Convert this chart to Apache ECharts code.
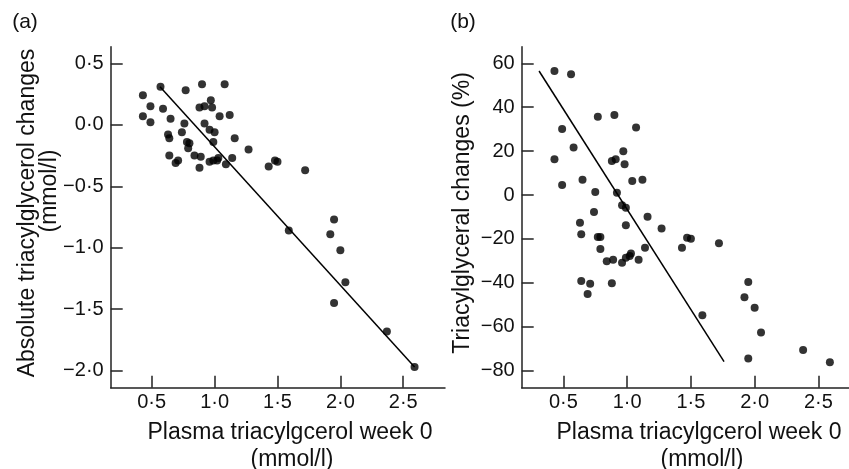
<!DOCTYPE html>
<html>
<head>
<meta charset="utf-8">
<script src="https://cdn.jsdelivr.net/npm/echarts@6/dist/echarts.min.js"></script>
<style>
html, body { margin: 0; padding: 0; background: #fff; }
#chart { width: 849px; height: 469px; }
</style>
</head>
<body>
<div id="chart"></div>
<script>
// (a) absolute change vs week 0 plasma TAG
const aX = [0.43, 0.43, 0.49, 0.49, 0.57, 0.59, 0.63, 0.64, 0.65, 0.64, 0.69, 0.71, 0.77, 0.76, 0.74, 0.78, 0.80, 0.79, 0.84, 0.88,
    0.90, 0.92, 0.92, 0.89, 0.88, 0.97, 0.98, 0.96, 1.00, 0.99, 0.96, 0.99, 1.02, 1.03, 1.04, 1.08, 1.09, 1.12, 1.16, 1.14,
    1.27, 1.43, 1.48, 1.50, 1.72, 1.59, 1.92, 1.95, 2.00, 2.04, 1.95, 2.37, 2.59]
const aY = [0.24, 0.07, 0.15, 0.02, 0.31, 0.13, -0.08, -0.11, 0.05, -0.25, -0.31, -0.29, 0.28, 0.01, -0.06, -0.14, -0.15, -0.19, -0.25, 0.14,
    0.33, 0.15, 0.01, -0.26, -0.35, 0.20, 0.14, -0.04, -0.06, -0.14, -0.30, -0.29, -0.29, -0.27, 0.07, 0.33, -0.32, 0.08, -0.11, -0.27,
    -0.20, -0.34, -0.29, -0.30, -0.37, -0.86, -0.89, -0.77, -1.02, -1.28, -1.45, -1.68, -1.97]
const aLineX = [0.566, 2.59]
const aLineY = [0.31, -1.97]

// (b) percentage change vs week 0 plasma TAG
const bX = [0.43, 0.56, 0.49, 0.43, 0.49, 0.58, 0.65, 0.63, 0.64, 0.64, 0.69, 0.71, 0.75, 0.77, 0.74, 0.77, 0.79, 0.79, 0.84, 0.88,
    0.91, 0.90, 0.92, 0.89, 0.88, 0.97, 0.98, 0.96, 0.99, 0.99, 0.96, 0.99, 1.02, 1.03, 1.04, 1.07, 1.09, 1.12, 1.16, 1.14,
    1.27, 1.43, 1.47, 1.50, 1.72, 1.59, 1.92, 1.95, 2.00, 2.05, 1.95, 2.38, 2.59]
const bY = [56.5, 55.0, 30.1, 16.3, 4.6, 21.6, 7.0, -12.6, -17.9, -39.2, -45.1, -40.4, 1.4, 35.7, -7.7, -19.1, -19.1, -24.6, -30.1, 15.5,
    16.3, 36.4, 1.0, -29.5, -40.2, 20.0, 14.0, -4.6, -5.8, -13.8, -30.8, -28.6, -27.8, -26.6, 6.4, 30.8, -29.5, 7.0, -9.9, -24.0,
    -15.2, -24.0, -19.4, -19.9, -21.9, -54.7, -46.5, -39.6, -51.3, -62.6, -74.4, -70.6, -76.1]
const bLineX = [0.309, 1.76]
const bLineY = [56.5, -75.9]

// tick labels
const xTicks = [0.5, 1.0, 1.5, 2.0, 2.5]
const xTickLabels = ['0·5', '1·0', '1·5', '2·0', '2·5']
const aYTicks = [0.5, 0, -0.5, -1.0, -1.5, -2.0]
const aYTickLabels = ['0·5', '0·0', '−0·5', '−1·0', '−1·5', '−2·0']
const bYTicks = [60, 40, 20, 0, -20, -40, -60, -80]
const bYTickLabels = ['60', '40', '20', '0', '−20', '−40', '−60', '−80']

const font = "'Liberation Sans', Arial, sans-serif"
const ink = '#000'

function zip(xs, ys) {
    return xs.map((x, i) => [x, ys[i]])
}
function lookup(values, labels) {
    return function (v) {
        const i = values.findIndex(t => Math.abs(t - v) < 1e-6)
        return i < 0 ? '' : labels[i]
    }
}

const axisCommon = {
    type: 'value',
    splitLine: { show: false },
    axisLine: { show: true, onZero: false, lineStyle: { color: '#222', width: 1.5 } },
    axisTick: { show: true, inside: true, length: 12, lineStyle: { color: '#222', width: 1.5 } },
    axisLabel: { color: '#111', fontSize: 20, fontFamily: font }
}

function xAxis(grid, min, max) {
    return Object.assign({}, axisCommon, {
        gridIndex: grid, min: min, max: max,
        axisTick: Object.assign({}, axisCommon.axisTick, { customValues: xTicks }),
        axisLabel: Object.assign({}, axisCommon.axisLabel, { margin: 5, customValues: xTicks, formatter: lookup(xTicks, xTickLabels) })
    })
}
function yAxis(grid, min, max, ticks, labels) {
    return Object.assign({}, axisCommon, {
        gridIndex: grid, min: min, max: max,
        axisTick: Object.assign({}, axisCommon.axisTick, { customValues: ticks }),
        axisLabel: Object.assign({}, axisCommon.axisLabel, { margin: 7, customValues: ticks, formatter: lookup(ticks, labels) })
    })
}

function label(text, x, y, size, rotate) {
    return {
        type: 'text', x: x, y: y, rotation: rotate ? Math.PI / 2 : 0,
        style: { text: text, fill: '#111', font: size + 'px ' + font, textAlign: 'center', textVerticalAlign: 'middle' }
    }
}

const chart = echarts.init(document.getElementById('chart'), null, { renderer: 'canvas' })
const option = {
    backgroundColor: '#fff',
    animation: false,
    grid: [
        { left: 110.7, right: 404, top: 46.7, bottom: 81.3 },
        { left: 521.7, right: 0, top: 46.7, bottom: 81.3 }
    ],
    xAxis: [xAxis(0, 0.174, 2.832), xAxis(1, 0.173, 2.74)],
    yAxis: [
        yAxis(0, -2.138, 0.635, aYTicks, aYTickLabels),
        yAxis(1, -87.74, 67.56, bYTicks, bYTickLabels)
    ],
    series: [
        { type: 'scatter', xAxisIndex: 0, yAxisIndex: 0, data: zip(aX, aY), symbolSize: 8, itemStyle: { color: ink } },
        { type: 'line', xAxisIndex: 0, yAxisIndex: 0, data: zip(aLineX, aLineY), showSymbol: false, lineStyle: { color: ink, width: 1.5 } },
        { type: 'scatter', xAxisIndex: 1, yAxisIndex: 1, data: zip(bX, bY), symbolSize: 8, itemStyle: { color: ink } },
        { type: 'line', xAxisIndex: 1, yAxisIndex: 1, data: zip(bLineX, bLineY), showSymbol: false, lineStyle: { color: ink, width: 1.5 } }
    ],
    graphic: [
        label('(a)', 25, 22, 21),
        label('(b)', 463, 22, 21),
        label('Absolute triacylglycerol changes', 28, 213, 23, true),
        label('(mmol/l)', 50, 191, 23, true),
        label('Triacylglyceral changes (%)', 463, 213, 23, true),
        label('Plasma triacylgcerol week 0', 290, 433, 23),
        label('(mmol/l)', 292, 460, 23),
        label('Plasma triacylgcerol week 0', 699, 433, 23),
        label('(mmol/l)', 702, 460, 23)
    ]
}
chart.setOption(option)
</script>
</body>
</html>
